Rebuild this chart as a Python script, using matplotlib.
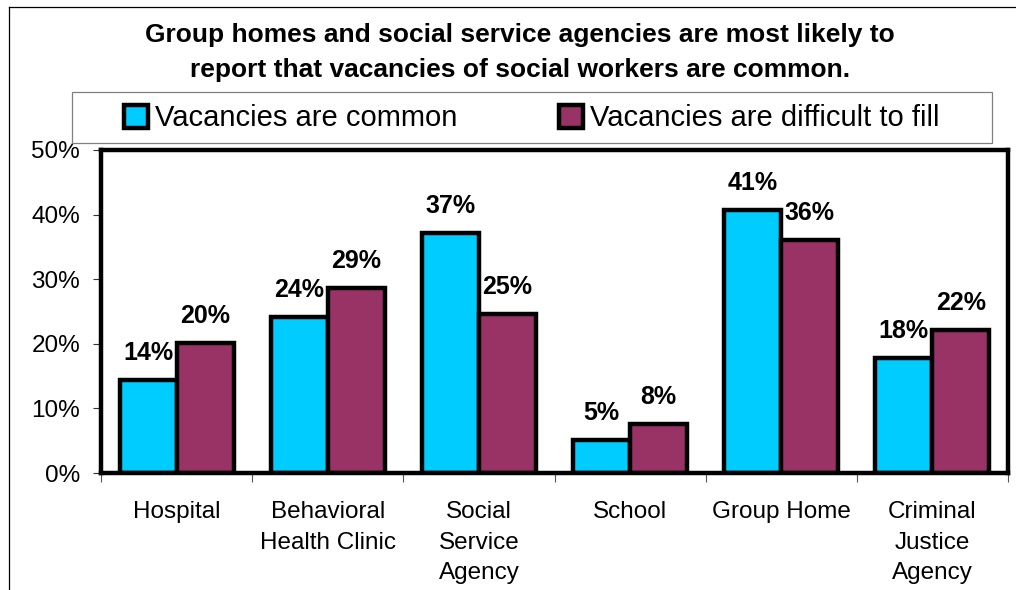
import matplotlib
matplotlib.use("Agg")
import matplotlib.pyplot as plt
from matplotlib.lines import Line2D
from matplotlib.patches import Rectangle
import numpy as np

plt.rcParams['font.family'] = ['Liberation Sans', 'DejaVu Sans']

categories = ["Hospital", "Behavioral\nHealth Clinic", "Social\nService\nAgency",
              "School", "Group Home", "Criminal\nJustice\nAgency"]
vacancies_common = [14.4, 24.2, 37.2, 5.1, 40.7, 17.8]
difficult_to_fill = [20.1, 28.6, 24.6, 7.6, 36.0, 22.1]
series_names = ["Vacancies are common", "Vacancies are difficult to fill"]
yticks = [0, 10, 20, 30, 40, 50]
title = ("Group homes and social service agencies are most likely to\n"
         "report that vacancies of social workers are common.")

BLUE = "#00CCFF"
PLUM = "#993366"

W, H = 1016, 590
fig = plt.figure(figsize=(W / 100, H / 100), dpi=100)

# thin outer chart-area frame (top and left edges)
fig.add_artist(Line2D([9 / W, 9 / W], [0, 1 - 7 / H], transform=fig.transFigure,
                      color="black", lw=0.9))
fig.add_artist(Line2D([9 / W, 1], [1 - 7 / H, 1 - 7 / H], transform=fig.transFigure,
                      color="black", lw=0.9))

ax = fig.add_axes([101 / W, 1 - 473 / H, (1008 - 101) / W, (473 - 150) / H])

x = np.arange(len(categories))
bw = 0.377
b1 = ax.bar(x - bw / 2, vacancies_common, bw, color=BLUE, edgecolor="black",
            linewidth=3.2, label=series_names[0], zorder=2)
b2 = ax.bar(x + bw / 2, difficult_to_fill, bw, color=PLUM, edgecolor="black",
            linewidth=3.2, label=series_names[1], zorder=2)

for bars, vals in ((b1, vacancies_common), (b2, difficult_to_fill)):
    for rect, v in zip(bars, vals):
        ax.annotate(f"{v:.0f}%", (rect.get_x() + rect.get_width() / 2, v),
                    xytext=(0, 14.4), textcoords="offset points",
                    ha="center", va="baseline", fontsize=18, fontweight="bold",
                    zorder=5)

ax.set_xlim(-0.5, len(categories) - 0.5)
ax.set_ylim(0, 50)
ax.set_yticks(yticks)
ax.set_yticklabels([f"{t}%" for t in yticks], fontsize=17.5)
ax.tick_params(axis="y", direction="out", length=6, width=0.8, color="#333333", pad=9)

# category boundaries as major ticks, labels on centered minor ticks
ax.set_xticks(np.arange(len(categories) + 1) - 0.5)
ax.set_xticklabels([])
ax.tick_params(axis="x", which="major", direction="out", length=6.5, width=0.8,
               color="#555555")
ax.set_xticks(x, minor=True)
ax.set_xticklabels(categories, minor=True, fontsize=17.5, linespacing=1.52)
ax.tick_params(axis="x", which="minor", length=0, pad=20)

for s in ax.spines.values():
    s.set_linewidth(3.2)
    s.set_color("black")
    s.set_zorder(3)

fig.text(520 / W, 1 - 52.5 / H, title, ha="center", va="center", fontsize=19,
         fontweight="bold", linespacing=1.56)

# legend box and entries
fig.add_artist(Rectangle((72 / W, 1 - 143 / H), (992 - 72) / W, (143 - 92) / H,
                         transform=fig.transFigure, facecolor="white",
                         edgecolor="#808080", lw=0.9))
fig.legend(handles=[b1, b2], labels=series_names, loc="center",
           bbox_to_anchor=(532 / W, 1 - 118.5 / H), ncol=2, frameon=False,
           fontsize=21, handlelength=0.8, handleheight=0.8, handletextpad=0.25,
           columnspacing=3.5, borderpad=0.2)

fig.savefig("out.png", dpi=100)
